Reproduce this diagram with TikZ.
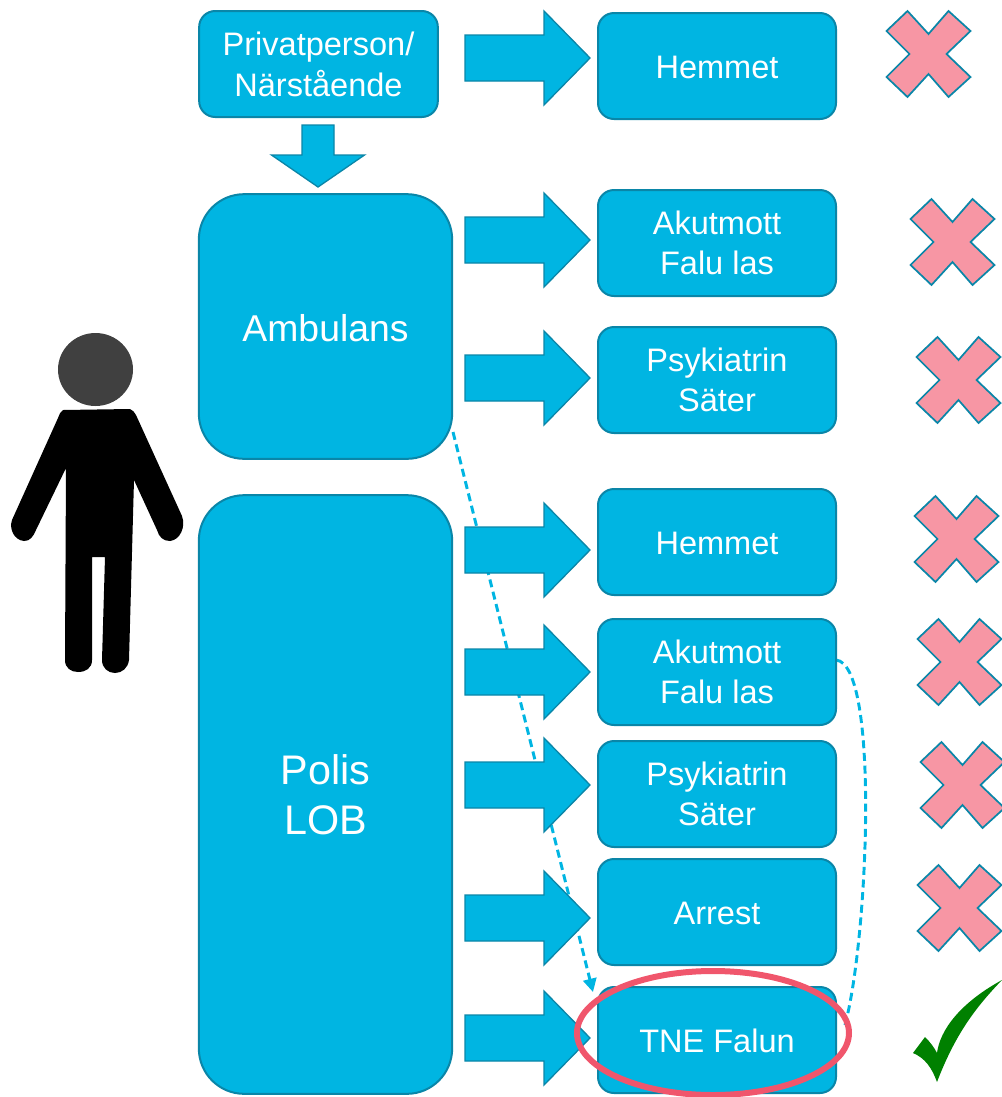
\documentclass[tikz,border=0pt]{standalone}
\usepackage{fontspec}
\setmainfont{Liberation Sans}
\usetikzlibrary{arrows.meta,backgrounds}
\definecolor{boxblue}{RGB}{0,181,226}
\definecolor{boxline}{RGB}{10,134,168}
\definecolor{crosspink}{RGB}{247,150,164}
\definecolor{ringred}{RGB}{240,86,108}
\definecolor{checkgreen}{RGB}{0,128,0}
\tikzset{
  place/.style={draw=boxline,fill=boxblue,line width=1.5pt,rounded corners=12pt,text=white,align=center,inner sep=0pt,
    minimum width=178.5pt,minimum height=79.5pt,font=\fontsize{24.4}{29.5}\selectfont,
    execute at begin node={\rule{0pt}{19.5pt}}},
  carrier/.style={place,rounded corners=34pt,minimum width=190pt,execute at begin node={\rule{0pt}{23pt}}},
  dashlink/.style={draw=boxblue,line width=2.2pt,dash pattern={on 6pt off 3.5pt}},
  blockarrow/.pic={
    \draw[draw=boxline,fill=boxblue,line width=1pt]
      (-62.5,-23) -- (16.5,-23) -- (16.5,-47) -- (62.5,0) -- (16.5,47) -- (16.5,23) -- (-62.5,23) -- cycle ;
  },
  downarrow/.pic={
    \draw[draw=boxline,fill=boxblue,line width=1pt]
      (-16,31) -- (16,31) -- (16,1) -- (46.5,1) -- (0,-31) -- (-46.5,1) -- (-16,1) -- cycle ;
  },
  crossmark/.pic={
    \draw[draw=boxline,fill=crosspink,line width=1.3pt]
      (-21,-43) -- (-42,-23) -- (-19,0) -- (-42,23) -- (-21,43) -- (0,20) -- (20,43) -- (42,23) -- (18,0) -- (42,-23) -- (20,-43) -- (0,-20) -- cycle ;
  }
}
\begin{document}
\begin{tikzpicture}[x=0.75pt,y=0.75pt,yscale=-1,xscale=1]
\useasboundingbox (0,0) rectangle (1002,1097);

% Person
\fill [black] (63,410) -- (130,409) .. controls (133,410) and (134,412) .. (136,415) -- (182,516) .. controls (186,527) and (180,540) .. (170,541) .. controls (163,541) and (159,537) .. (157,530) -- (134,480) -- (129,660) .. controls (128,668) and (122,673) .. (115,673) .. controls (108,673) and (102,668) .. (102,660) -- (105,557) -- (92,557) -- (92,660) .. controls (92,668) and (86,672) .. (78,672) .. controls (71,672) and (65,668) .. (65,660) -- (66,468) -- (36,530) .. controls (33,537) and (30,541) .. (24,541) .. controls (14,540) and (9,529) .. (12,520) -- (58,418) .. controls (60,413) and (61,411) .. (63,410) -- cycle ;
\fill [color={rgb,255:red,64;green,64;blue,64}] (95.5,369.5) circle [x radius=37.5,y radius=36.5] ;

% Boxes
\node [place,minimum width=179pt] (privat) at (318.5,64) {Privatperson/\\[1.2pt]Närstående};
\node [place] (hem1) at (717,66) {Hemmet};
\node [carrier,minimum height=198.5pt,font=\fontsize{28}{33}\selectfont] (ambulans) at (325.5,326.5) {Ambulans};
\node [place] (akut1) at (717,243) {Akutmott\\Falu las};
\node [place] (psyk1) at (717,380) {Psykiatrin\\Säter};
\node [carrier,minimum height=449pt,font=\fontsize{31}{37.5}\selectfont] (polis) at (325.5,794.5) {Polis\\LOB};
\node [place] (hem2) at (717,542) {Hemmet};
\node [place] (akut2) at (717,672) {Akutmott\\Falu las};
\node [place] (psyk2) at (717,794) {Psykiatrin\\Säter};
\node [place] (arrest) at (717,912) {Arrest};
\node [place] (tne) at (717,1040) {TNE Falun};

% Block arrows
\pic (pil1) at (527.5,58) {blockarrow};
\pic (pil2) at (527.5,240) {blockarrow};
\pic (pil3) at (527.5,378) {blockarrow};
\pic (pil4) at (527.5,550) {blockarrow};
\pic (pil5) at (527.5,672) {blockarrow};
\pic (pil6) at (527.5,785) {blockarrow};
\pic (pil7) at (527.5,918) {blockarrow};
\pic (pil8) at (527.5,1038) {blockarrow};
\pic (pilned) at (318,156) {downarrow};

% Dashed links
\coordinate (ambstart) at (453,432);
\coordinate (tnetop) at (593,992);
\coordinate (akutstart) at (836,660);
\coordinate (tneside) at (845,1025);
\begin{scope}[on background layer]
\draw [dashlink,-{Triangle[length=10pt,width=10pt,fill=boxblue]}] (ambstart) -- (tnetop) ;
\draw [dashlink] (akutstart) .. controls (880,664) and (868,940) .. (tneside) ;
\end{scope}

% Ring
\draw [draw=ringred,line width=4.5pt] (713,1033) circle [x radius=136,y radius=62] ;

% Crosses
\pic (kryss1) at (928.5,54) {crossmark};
\pic (kryss2) at (952.5,242) {crossmark};
\pic (kryss3) at (958.5,380) {crossmark};
\pic (kryss4) at (956.5,539) {crossmark};
\pic (kryss5) at (959.5,662) {crossmark};
\pic (kryss6) at (962.5,785) {crossmark};
\pic (kryss7) at (959.5,908) {crossmark};

% Check mark
\fill [checkgreen] (1002,980) .. controls (975,1008) and (955,1035) .. (937,1082) .. controls (932,1068) and (925,1058) .. (913,1053) -- (925,1037) .. controls (930,1042) and (934,1047) .. (937,1053) .. controls (940,1030) and (960,1003) .. (1002,980) -- cycle ;
\end{tikzpicture}
\end{document}
